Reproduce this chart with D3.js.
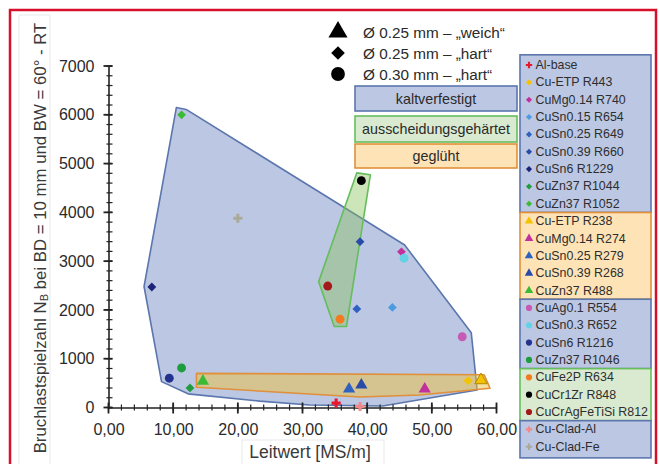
<!DOCTYPE html>
<html>
<head>
<meta charset="utf-8">
<script src="https://cdn.jsdelivr.net/npm/d3@7"></script>
<style>
  body { margin: 0; background: #fff; }
  svg { display: block; }
  text { font-family: "Liberation Sans", Arial, sans-serif; }
</style>
</head>
<body>
<svg id="chart" width="659" height="464"></svg>
<script>
// Wire materials, conductivity [MS/m] and cycles to failure N_B
const seriesNames = [
  "Al-base", "Cu-ETP R443", "CuMg0.14 R740", "CuSn0.15 R654", "CuSn0.25 R649",
  "CuSn0.39 R660", "CuSn6 R1229", "CuZn37 R1044", "CuZn37 R1052",
  "Cu-ETP R238", "CuMg0.14 R274", "CuSn0.25 R279", "CuSn0.39 R268", "CuZn37 R488",
  "CuAg0.1 R554", "CuSn0.3 R652", "CuSn6 R1216", "CuZn37 R1046",
  "CuFe2P R634", "CuCr1Zr R848", "CuCrAgFeTiSi R812",
  "Cu-Clad-Al", "Cu-Clad-Fe"
];
const conductivity = [
  35.2, 55.6, 45.3, 43.9, 38.4,
  38.9, 6.7, 12.6, 11.3,
  57.6, 48.9, 37.2, 39.1, 14.6,
  54.7, 45.7, 9.4, 11.3,
  35.8, 39.1, 33.9,
  38.9, 20.0
];
const cycles = [
  90, 550, 3190, 2050, 2020,
  3400, 2470, 400, 6000,
  560, 380, 380, 460, 540,
  1450, 3060, 600, 810,
  1810, 4650, 2490,
  20, 3880
];
// wire: w25 = Ø 0.25 "weich", h25 = Ø 0.25 "hart", h30 = Ø 0.30 "hart", x = clad / base
const wireType = [
  "x", "h25", "h25", "h25", "h25",
  "h25", "h25", "h25", "h25",
  "w25", "w25", "w25", "w25", "w25",
  "h30", "h30", "h30", "h30",
  "h30", "h30", "h30",
  "x", "x"
];
const treatment = [
  "kalt", "kalt", "kalt", "kalt", "kalt",
  "kalt", "kalt", "kalt", "kalt",
  "gegl", "gegl", "gegl", "gegl", "gegl",
  "kalt", "kalt", "kalt", "kalt",
  "aus", "aus", "aus",
  "kalt", "kalt"
];
const seriesColors = [
  "#e8192c", "#f5c200", "#c2309c", "#4c9be0", "#2f62c0",
  "#2a4aa8", "#1c237a", "#1f9d3e", "#3bbb35",
  "#f5c200", "#c2309c", "#2f62c0", "#2a4aa8", "#3bbb35",
  "#c65ab4", "#62d2e4", "#24318f", "#1f9d3e",
  "#f27a1f", "#000000", "#a31a1a",
  "#f08a8a", "#a9aa9a"
];

// Outlines of the treatment regions, in data units [MS/m, N_B]
const hullKalt = [
  [10.5, 6150], [12.0, 6110], [45.8, 3330], [56.1, 1530], [57.0, 360],
  [42.4, 30], [31.1, 50], [23.4, 130], [12.3, 280], [8.2, 530], [5.5, 2480]
];
const hullAus = [
  [38.4, 4810], [40.5, 4770], [36.8, 1660], [34.9, 1660], [32.5, 2580]
];
const hullGegl = [
  [13.6, 700], [58.1, 670], [59.0, 395], [48.1, 255], [38.9, 215], [13.6, 415]
];

const xTickValues = [0, 10, 20, 30, 40, 50, 60];
const yTickValues = [0, 1000, 2000, 3000, 4000, 5000, 6000, 7000];

const wireLegend = [
  { type: "w25", label: "Ø 0.25 mm – „weich“" },
  { type: "h25", label: "Ø 0.25 mm – „hart“" },
  { type: "h30", label: "Ø 0.30 mm – „hart“" }
];
const treatmentLegend = [
  { key: "kalt", label: "kaltverfestigt" },
  { key: "aus", label: "ausscheidungsgehärtet" },
  { key: "gegl", label: "geglüht" }
];

const treatmentStyle = {
  kalt: { fill: "#bcc7e3", stroke: "#5b76ad", hull: "#bcc7e3", hullOpacity: 1 },
  aus:  { fill: "#d9ead0", stroke: "#66bd5c", hull: "#86c058", hullOpacity: 0.42 },
  gegl: { fill: "#fde3b6", stroke: "#e08f3a", hull: "#eec23c", hullOpacity: 0.5 }
};

const svg = d3.select("#chart");

const x = d3.scaleLinear().domain([0, 60]).range([108.5, 496.5]);
const y = d3.scaleLinear().domain([0, 7000]).range([407.5, 66]);

// frame
svg.append("rect")
  .attr("x", 10).attr("y", 10).attr("width", 646).attr("height", 480)
  .attr("fill", "none").attr("stroke", "#d6102a").attr("stroke-width", 2.5);

// faint title boxes
svg.append("rect").attr("x", 19).attr("y", 15).attr("width", 31).attr("height", 460)
  .attr("fill", "none").attr("stroke", "#e9e9e9");
svg.append("rect").attr("x", 242).attr("y", 440).attr("width", 142).attr("height", 40)
  .attr("fill", "none").attr("stroke", "#e9e9e9");

// treatment regions
const line = d3.line().x(d => x(d[0])).y(d => y(d[1])).curve(d3.curveLinearClosed);
const hulls = [
  { key: "kalt", pts: hullKalt },
  { key: "aus", pts: hullAus },
  { key: "gegl", pts: hullGegl }
];
svg.append("g").selectAll("path").data(hulls).join("path")
  .attr("d", d => line(d.pts))
  .attr("fill", d => treatmentStyle[d.key].hull)
  .attr("fill-opacity", d => treatmentStyle[d.key].hullOpacity)
  .attr("stroke", d => treatmentStyle[d.key].stroke)
  .attr("stroke-width", 1.6)
  .attr("stroke-linejoin", "round");

// axes
const axisColor = "#222";
const gx = svg.append("g").attr("transform", `translate(0,${y(0)})`)
  .call(d3.axisBottom(x).tickValues(xTickValues).tickSize(0).tickPadding(16)
    .tickFormat(d => d3.format(".2f")(d).replace(".", ",")));
gx.select(".domain").attr("stroke", axisColor).attr("stroke-width", 1.6);
gx.selectAll("text").attr("font-size", 16).attr("fill", "#2a2a2a")
  .attr("font-family", "Liberation Sans, Arial, sans-serif");

const gy = svg.append("g").attr("transform", `translate(${x(0)},0)`)
  .call(d3.axisLeft(y).tickValues(yTickValues).tickSize(0).tickPadding(14)
    .tickFormat(d3.format("d")));
gy.select(".domain").attr("stroke", axisColor).attr("stroke-width", 1.6);
gy.selectAll("text").attr("font-size", 16).attr("fill", "#2a2a2a")
  .attr("font-family", "Liberation Sans, Arial, sans-serif");

// crossing tick marks, major and minor
const ticks = svg.append("g").attr("stroke", axisColor);
ticks.selectAll(".xmin").data(d3.range(0, 60.001, 2)).join("line")
  .attr("x1", d => x(d)).attr("x2", d => x(d))
  .attr("y1", y(0) - 3).attr("y2", y(0) + 3).attr("stroke-width", 1.2);
ticks.selectAll(".xmaj").data(xTickValues).join("line")
  .attr("x1", d => x(d)).attr("x2", d => x(d))
  .attr("y1", y(0) - 5).attr("y2", y(0) + 6).attr("stroke-width", 1.8);
ticks.selectAll(".ymin").data(d3.range(0, 7000.1, 200)).join("line")
  .attr("y1", d => y(d)).attr("y2", d => y(d))
  .attr("x1", x(0) - 2).attr("x2", x(0) + 4).attr("stroke-width", 1.2);
ticks.selectAll(".ymaj").data(yTickValues).join("line")
  .attr("y1", d => y(d)).attr("y2", d => y(d))
  .attr("x1", x(0) - 5).attr("x2", x(0) + 4).attr("stroke-width", 1.8);

// axis titles
svg.append("text")
  .attr("x", 310).attr("y", 458).attr("text-anchor", "middle")
  .attr("font-size", 17.5).attr("fill", "#3a3a3a")
  .text("Leitwert [MS/m]");

const yt = svg.append("text")
  .attr("transform", "translate(40,238) rotate(-90)")
  .attr("text-anchor", "middle").attr("dominant-baseline", "central")
  .attr("font-size", 16.8).attr("fill", "#3a3a3a");
yt.append("tspan").text("Bruchlastspielzahl N");
yt.append("tspan").attr("font-size", 11).attr("dy", 4).text("B");
yt.append("tspan").attr("dy", -4).text(" bei BD = 10 mm und BW = 60° - RT");

// marker shapes
function markerPath(type, size) {
  switch (type) {
    case "w25": return d3.symbol(d3.symbolTriangle, size * 1.05)();
    case "h25": return d3.symbol(d3.symbolSquare, size * 0.62)();
    case "h30": return d3.symbol(d3.symbolCircle, size)();
    default:    return d3.symbol(d3.symbolCross, size * 0.75)();
  }
}
function markerRotate(type) { return type === "h25" ? " rotate(45)" : ""; }

// data points
const idx = d3.range(seriesNames.length);
svg.append("g").selectAll("path").data(idx).join("path")
  .attr("d", i => markerPath(wireType[i], 62))
  .attr("transform", i => `translate(${x(conductivity[i])},${y(cycles[i])})${markerRotate(wireType[i])}`)
  .attr("fill", i => seriesColors[i])
  .attr("stroke", i => i === 9 ? "#b08a00" : "none")
  .attr("stroke-width", 1);

// wire type legend
const wl = svg.append("g");
wireLegend.forEach((d, k) => {
  const cy = 32 + k * 21;
  wl.append("path")
    .attr("d", markerPath(d.type, 150))
    .attr("transform", `translate(338,${cy})${markerRotate(d.type)}`)
    .attr("fill", "#000");
  wl.append("text").attr("x", 363).attr("y", cy).attr("dominant-baseline", "central")
    .attr("font-size", 15.3).attr("fill", "#2a2a2a").text(d.label);
});

// treatment legend boxes
const boxY = [86, 116, 144];
const boxH = [25, 26, 24];
treatmentLegend.forEach((d, k) => {
  const st = treatmentStyle[d.key];
  svg.append("rect").attr("x", 355).attr("y", boxY[k]).attr("width", 162).attr("height", boxH[k])
    .attr("fill", st.fill).attr("stroke", st.stroke).attr("stroke-width", 1.6);
  svg.append("text").attr("x", 436).attr("y", boxY[k] + boxH[k] / 2)
    .attr("text-anchor", "middle").attr("dominant-baseline", "central")
    .attr("font-size", 14.3).attr("fill", "#2a2a2a").text(d.label);
});

// series legend, grouped into blocks by treatment
const rowY0 = 65, rowH = 17.35, legX = 520, legW = 131;
const rowY = i => rowY0 + i * rowH;
const runs = [];
idx.forEach(i => {
  const last = runs[runs.length - 1];
  if (last && last.key === treatment[i]) last.end = i;
  else runs.push({ key: treatment[i], start: i, end: i });
});
const lg = svg.append("g");
runs.forEach((r, k) => {
  const top = rowY(r.start) - rowH / 2 - (k === 0 ? 1.5 : 0);
  const bot = rowY(r.end) + rowH / 2 + (k === runs.length - 1 ? 2.5 : 0);
  lg.append("rect").attr("x", legX).attr("y", top).attr("width", legW).attr("height", bot - top)
    .attr("fill", treatmentStyle[r.key].fill)
    .attr("stroke", treatmentStyle[r.key].stroke).attr("stroke-width", 1.6);
});
idx.forEach(i => {
  lg.append("path")
    .attr("d", markerPath(wireType[i], 30))
    .attr("transform", `translate(529,${rowY(i)})${markerRotate(wireType[i])}`)
    .attr("fill", seriesColors[i]);
  lg.append("text").attr("x", 535.5).attr("y", rowY(i)).attr("dominant-baseline", "central")
    .attr("font-size", 12.4).attr("fill", "#2e2e2e").text(seriesNames[i]);
});
</script>
</body>
</html>
